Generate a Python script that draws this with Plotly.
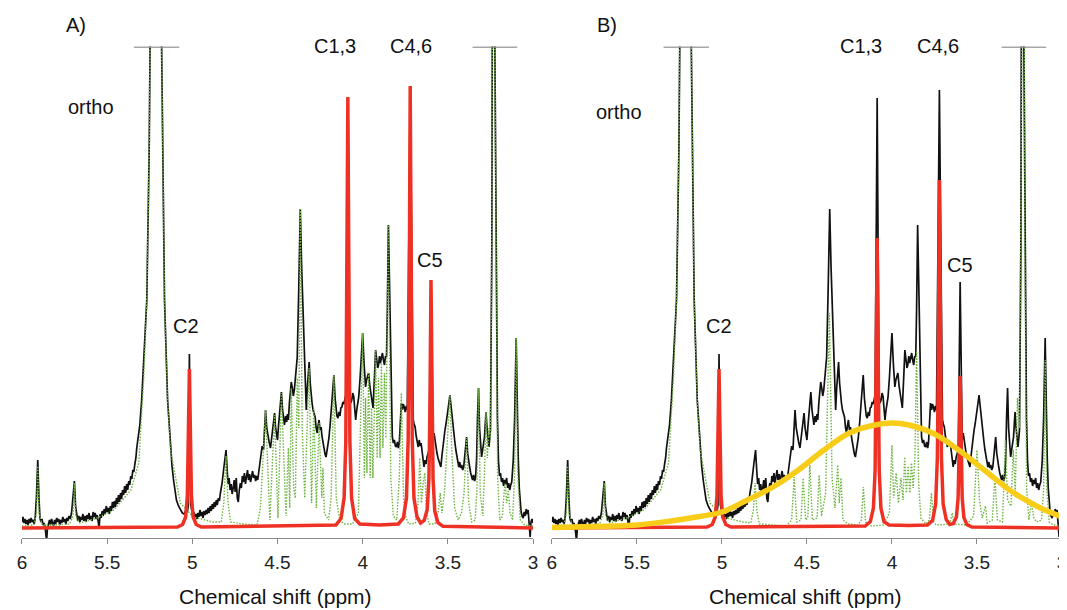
import plotly.graph_objects as go

# Measured 1H spectrum (ppm, intensity) - same data in both panels
spectrum = [
    (6.000, 6), (5.994, 11), (5.988, 5), (5.982, 9), (5.976, 4), (5.970, 8),
    (5.964, 3), (5.958, 9), (5.952, 5), (5.946, 10), (5.940, 6), (5.934, 8),
    (5.928, 4), (5.922, 10), (5.915, 30), (5.907, 68), (5.900, 30), (5.894, 10),
    (5.888, 6), (5.882, 9), (5.876, 3), (5.870, 5), (5.864, 1), (5.858, -6),
    (5.855, -13), (5.850, 0), (5.844, 4), (5.838, 8), (5.832, 3), (5.826, 9),
    (5.820, 5), (5.814, 2), (5.808, 8), (5.802, 4), (5.796, 10), (5.790, 6),
    (5.784, 9), (5.778, 3), (5.772, 8), (5.766, 5), (5.760, 11), (5.754, 6),
    (5.748, 9), (5.742, 4), (5.736, 10), (5.730, 7), (5.724, 12), (5.716, 9),
    (5.708, 16), (5.700, 30), (5.692, 47), (5.685, 22), (5.678, 12), (5.672, 7),
    (5.666, 12), (5.660, 6), (5.654, 11), (5.648, 8), (5.642, 14), (5.636, 7),
    (5.630, 12), (5.624, 6), (5.618, 13), (5.612, 9), (5.606, 15), (5.600, 8),
    (5.594, 12), (5.588, 7), (5.582, 16), (5.576, 11), (5.570, 15), (5.564, 9),
    (5.558, 13), (5.552, 6), (5.547, 0), (5.541, 14), (5.535, 10), (5.529, 17),
    (5.523, 12), (5.517, 19), (5.511, 14), (5.505, 22), (5.499, 16), (5.493, 20),
    (5.487, 14), (5.481, 22), (5.475, 17), (5.469, 26), (5.463, 20), (5.457, 27),
    (5.451, 21), (5.445, 30), (5.439, 24), (5.433, 33), (5.427, 26), (5.421, 35),
    (5.415, 29), (5.409, 38), (5.403, 33), (5.397, 42), (5.391, 35), (5.385, 44),
    (5.379, 38), (5.373, 47), (5.367, 43), (5.361, 52), (5.355, 49), (5.349, 58),
    (5.343, 56), (5.337, 64), (5.331, 70), (5.326, 80), (5.317, 92), (5.308, 103),
    (5.297, 128), (5.285, 168), (5.267, 228), (5.253, 378), (5.244, 481),
    (5.212, 1200), (5.180, 481), (5.172, 378), (5.163, 228), (5.145, 128),
    (5.128, 78), (5.119, 62), (5.110, 48), (5.101, 38), (5.093, 28), (5.081, 22),
    (5.070, 18), (5.058, 15), (5.047, 14), (5.038, 18), (5.029, 16), (5.023, 23),
    (5.017, 174), (5.009, 23), (5.003, 18), (4.997, 12), (4.991, 16), (4.985, 10),
    (4.979, 14), (4.973, 9), (4.967, 15), (4.961, 11), (4.955, 18), (4.949, 12),
    (4.943, 16), (4.937, 10), (4.931, 17), (4.925, 13), (4.919, 18), (4.913, 14),
    (4.907, 20), (4.901, 15), (4.895, 22), (4.889, 17), (4.883, 24), (4.877, 19),
    (4.871, 26), (4.865, 21), (4.859, 28), (4.853, 23), (4.847, 30), (4.841, 27),
    (4.835, 35), (4.825, 45), (4.815, 60), (4.808, 72), (4.802, 78), (4.796, 60),
    (4.790, 44), (4.784, 50), (4.778, 38), (4.772, 44), (4.766, 34), (4.760, 40),
    (4.754, 48), (4.748, 36), (4.742, 50), (4.736, 30), (4.730, 26), (4.724, 38),
    (4.718, 45), (4.712, 40), (4.706, 52), (4.700, 46), (4.694, 55), (4.688, 44),
    (4.682, 53), (4.676, 58), (4.670, 48), (4.664, 54), (4.658, 46), (4.652, 52),
    (4.646, 57), (4.640, 50), (4.634, 53), (4.628, 47), (4.622, 52), (4.616, 48),
    (4.610, 56), (4.605, 66), (4.599, 75), (4.590, 82), (4.582, 78), (4.576, 95),
    (4.570, 118), (4.563, 100), (4.556, 92), (4.549, 86), (4.541, 80), (4.535, 90),
    (4.528, 98), (4.522, 105), (4.517, 115), (4.511, 100), (4.505, 95),
    (4.500, 88), (4.494, 102), (4.488, 112), (4.482, 125), (4.477, 136),
    (4.470, 118), (4.465, 110), (4.459, 103), (4.452, 112), (4.446, 106),
    (4.441, 114), (4.436, 108), (4.430, 125), (4.424, 135), (4.419, 146),
    (4.413, 140), (4.407, 132), (4.401, 138), (4.395, 150), (4.390, 160),
    (4.384, 171), (4.375, 240), (4.366, 319), (4.358, 260), (4.349, 205),
    (4.340, 150), (4.331, 118), (4.325, 140), (4.320, 155), (4.314, 166),
    (4.308, 145), (4.302, 132), (4.297, 125), (4.291, 118), (4.285, 114),
    (4.279, 111), (4.273, 100), (4.267, 95), (4.262, 102), (4.256, 108),
    (4.250, 98), (4.244, 101), (4.239, 92), (4.233, 85), (4.227, 78), (4.221, 74),
    (4.215, 71), (4.209, 78), (4.204, 84), (4.198, 90), (4.190, 105),
    (4.180, 125), (4.169, 153), (4.162, 130), (4.157, 118), (4.151, 112),
    (4.145, 110), (4.139, 116), (4.133, 112), (4.128, 120), (4.122, 121),
    (4.116, 126), (4.110, 124), (4.105, 130), (4.099, 133), (4.087, 430),
    (4.076, 133), (4.070, 125), (4.064, 128), (4.058, 135), (4.052, 131),
    (4.046, 118), (4.041, 108), (4.035, 118), (4.029, 125), (4.023, 131),
    (4.015, 150), (4.007, 170), (4.000, 195), (3.992, 165), (3.983, 141),
    (3.977, 148), (3.971, 152), (3.965, 155), (3.958, 142), (3.953, 136),
    (3.948, 131), (3.943, 126), (3.939, 120), (3.931, 150), (3.924, 178),
    (3.917, 168), (3.912, 160), (3.907, 163), (3.901, 172), (3.896, 165),
    (3.890, 170), (3.884, 175), (3.878, 168), (3.872, 163), (3.866, 172),
    (3.860, 171), (3.855, 220), (3.849, 303), (3.843, 250), (3.837, 198),
    (3.831, 140), (3.826, 91), (3.820, 85), (3.814, 88), (3.808, 82),
    (3.802, 81), (3.796, 86), (3.790, 80), (3.785, 85), (3.779, 105),
    (3.773, 125), (3.767, 118), (3.762, 124), (3.756, 121), (3.750, 116),
    (3.744, 122), (3.738, 118), (3.721, 438), (3.703, 108), (3.698, 104),
    (3.692, 101), (3.686, 92), (3.680, 86), (3.674, 81), (3.668, 88),
    (3.662, 82), (3.657, 85), (3.651, 74), (3.645, 66), (3.640, 61), (3.634, 68),
    (3.628, 64), (3.622, 71), (3.616, 75), (3.610, 78), (3.599, 246),
    (3.587, 88), (3.581, 95), (3.575, 86), (3.570, 80), (3.564, 75), (3.558, 70),
    (3.552, 66), (3.547, 63), (3.541, 61), (3.535, 72), (3.529, 82), (3.523, 90),
    (3.517, 98), (3.511, 104), (3.505, 110), (3.500, 115), (3.494, 125),
    (3.488, 133), (3.482, 122), (3.477, 116), (3.471, 108), (3.465, 96),
    (3.459, 86), (3.453, 78), (3.447, 72), (3.441, 66), (3.436, 61), (3.430, 66),
    (3.425, 60), (3.419, 63), (3.413, 58), (3.407, 61), (3.401, 70), (3.396, 80),
    (3.390, 91), (3.384, 75), (3.378, 66), (3.372, 61), (3.366, 55), (3.361, 52),
    (3.355, 48), (3.349, 53), (3.343, 47), (3.337, 51), (3.331, 70), (3.326, 110),
    (3.320, 140), (3.314, 100), (3.308, 80), (3.302, 71), (3.296, 78),
    (3.291, 85), (3.285, 91), (3.280, 105), (3.276, 116), (3.271, 102),
    (3.267, 95), (3.263, 86), (3.259, 81), (3.254, 90), (3.250, 98), (3.242, 278),
    (3.236, 481), (3.230, 1200), (3.224, 481), (3.218, 278), (3.209, 110),
    (3.203, 68), (3.197, 52), (3.191, 55), (3.185, 46), (3.179, 50), (3.173, 42),
    (3.167, 48), (3.161, 44), (3.155, 50), (3.149, 40), (3.143, 45), (3.137, 38),
    (3.131, 43), (3.125, 46), (3.116, 68), (3.108, 110), (3.099, 190),
    (3.093, 120), (3.087, 71), (3.081, 40), (3.076, 25), (3.070, 16),
    (3.064, 12), (3.058, 10), (3.052, 16), (3.046, 12), (3.040, 19), (3.035, 14),
    (3.029, 18), (3.023, 8), (3.017, -9), (3.012, 6), (3.006, 9), (3.000, 5),
]

# fitted narrow components (green dotted), panel A
components_a = [
    (6.00, 2), (5.93, 3), (5.915, 14), (5.907, 62), (5.899, 14), (5.88, 3),
    (5.80, 3), (5.72, 4), (5.70, 12), (5.692, 45), (5.684, 12), (5.66, 5),
    (5.56, 10), (5.46, 18), (5.36, 38), (5.314, 65), (5.285, 150), (5.267, 228),
    (5.253, 378), (5.244, 481), (5.212, 1200), (5.180, 481), (5.172, 378),
    (5.163, 228), (5.145, 128), (5.128, 78), (5.07, 25), (4.994, 11),
    (4.878, 6), (4.83, 6), (4.815, 25), (4.802, 72), (4.79, 25), (4.775, 6),
    (4.70, 4), (4.62, 3), (4.60, 20), (4.57, 118), (4.545, 8), (4.517, 113),
    (4.497, 10), (4.477, 135), (4.45, 12), (4.436, 80), (4.428, 20),
    (4.419, 140), (4.405, 40), (4.395, 30), (4.384, 150), (4.375, 100),
    (4.366, 319), (4.355, 100), (4.34, 30), (4.314, 160), (4.30, 25),
    (4.287, 120), (4.272, 20), (4.256, 105), (4.24, 30), (4.233, 60),
    (4.225, 15), (4.20, 8), (4.185, 30), (4.169, 153), (4.155, 30), (4.135, 8),
    (4.11, 4), (4.06, 4), (4.025, 15), (4.000, 195), (3.99, 50), (3.983, 130),
    (3.975, 55), (3.965, 155), (3.956, 50), (3.948, 120), (3.94, 50),
    (3.924, 178), (3.915, 70), (3.907, 150), (3.898, 70), (3.890, 165),
    (3.881, 80), (3.872, 155), (3.864, 90), (3.849, 303), (3.835, 50),
    (3.82, 12), (3.80, 8), (3.785, 50), (3.773, 135), (3.76, 30), (3.745, 10),
    (3.73, 4), (3.69, 5), (3.675, 25), (3.665, 70), (3.655, 25), (3.645, 45),
    (3.635, 55), (3.625, 15), (3.61, 4), (3.575, 4), (3.555, 18), (3.545, 35),
    (3.535, 15), (3.52, 35), (3.500, 100), (3.488, 133), (3.475, 70),
    (3.46, 20), (3.44, 8), (3.42, 15), (3.405, 35), (3.390, 90), (3.378, 25),
    (3.36, 6), (3.34, 8), (3.33, 35), (3.320, 140), (3.31, 35), (3.295, 12),
    (3.285, 55), (3.276, 116), (3.268, 70), (3.259, 100), (3.250, 90),
    (3.242, 278), (3.236, 481), (3.230, 1200), (3.224, 481), (3.218, 278),
    (3.208, 50), (3.195, 8), (3.18, 12), (3.17, 35), (3.163, 45), (3.155, 25),
    (3.145, 38), (3.135, 15), (3.12, 8), (3.108, 55), (3.099, 190), (3.09, 55),
    (3.075, 8), (3.05, 3), (3.00, 2),
]

# fitted narrow components (green dotted), panel B (broad hump fitted separately)
components_b = [
    (6.00, 2), (5.93, 3), (5.915, 14), (5.907, 62), (5.899, 14), (5.88, 3),
    (5.80, 3), (5.72, 4), (5.70, 12), (5.692, 45), (5.684, 12), (5.66, 5),
    (5.56, 10), (5.46, 18), (5.36, 38), (5.314, 65), (5.285, 150), (5.267, 228),
    (5.253, 378), (5.244, 481), (5.212, 1200), (5.180, 481), (5.172, 378),
    (5.163, 228), (5.145, 128), (5.128, 78), (5.07, 25), (4.994, 11),
    (4.878, 6), (4.83, 5), (4.815, 18), (4.805, 45), (4.795, 18), (4.78, 4),
    (4.62, 2), (4.59, 8), (4.575, 51), (4.56, 6), (4.535, 8), (4.522, 50),
    (4.508, 8), (4.495, 10), (4.483, 63), (4.468, 8), (4.44, 10), (4.428, 53),
    (4.414, 12), (4.39, 35), (4.368, 215), (4.352, 50), (4.335, 20),
    (4.319, 63), (4.31, 25), (4.30, 50), (4.288, 8), (4.26, 4), (4.20, 3),
    (4.18, 8), (4.168, 41), (4.155, 6), (4.12, 2), (4.05, 3), (4.015, 15),
    (4.000, 83), (3.99, 30), (3.975, 55), (3.962, 25), (3.947, 50), (3.935, 28),
    (3.925, 71), (3.915, 35), (3.905, 62), (3.895, 35), (3.885, 65),
    (3.875, 40), (3.865, 70), (3.855, 178), (3.843, 45), (3.83, 10), (3.80, 4),
    (3.78, 8), (3.768, 35), (3.755, 6), (3.74, 3), (3.66, 4), (3.645, 15),
    (3.635, 4), (3.56, 3), (3.52, 12), (3.500, 78), (3.485, 28), (3.47, 10),
    (3.45, 22), (3.44, 5), (3.41, 8), (3.395, 50), (3.38, 8), (3.35, 6),
    (3.333, 88), (3.32, 28), (3.30, 22), (3.287, 78), (3.275, 35),
    (3.262, 130), (3.250, 100), (3.242, 278), (3.236, 481), (3.230, 1200),
    (3.224, 481), (3.218, 278), (3.208, 40), (3.195, 8), (3.18, 25),
    (3.165, 10), (3.15, 6), (3.12, 8), (3.108, 40), (3.099, 168), (3.09, 40),
    (3.075, 6), (3.05, 3), (3.00, 2),
]

# inositol ring signals (red), panel A
ring_a = [
    (6.000, 0), (5.087, 1), (5.057, 3.5), (5.039, 11), (5.029, 32), (5.023, 80),
    (5.020, 127), (5.017, 159), (5.014, 127), (5.011, 80), (5.005, 32),
    (4.995, 11), (4.977, 3.5), (4.947, 1), (4.157, 3), (4.127, 9.5),
    (4.109, 30), (4.099, 86), (4.093, 215), (4.090, 345), (4.087, 431),
    (4.084, 345), (4.081, 215), (4.075, 86), (4.065, 30), (4.047, 9.5),
    (4.017, 4), (3.90, 3), (3.791, 4), (3.761, 10), (3.743, 30), (3.733, 88),
    (3.727, 221), (3.724, 354), (3.721, 442), (3.718, 354), (3.715, 221),
    (3.709, 88), (3.699, 30), (3.681, 11), (3.660, 5), (3.639, 7.5),
    (3.621, 18.5), (3.611, 50), (3.605, 124), (3.602, 198), (3.599, 248),
    (3.596, 198), (3.593, 124), (3.587, 50), (3.577, 17), (3.559, 5.5),
    (3.529, 1.7), (3.000, 0),
]

# inositol ring signals (red), panel B
ring_b = [
    (6.000, 0), (5.087, 1), (5.057, 3.5), (5.039, 11), (5.029, 32), (5.023, 80),
    (5.020, 127), (5.017, 159), (5.014, 127), (5.011, 80), (5.005, 32),
    (4.995, 11), (4.977, 3.5), (4.947, 1), (4.157, 2), (4.127, 6.4),
    (4.109, 20), (4.099, 58), (4.093, 145), (4.090, 232), (4.087, 290),
    (4.084, 232), (4.081, 145), (4.075, 58), (4.065, 20), (4.047, 6.4),
    (4.017, 3), (3.90, 2.5), (3.791, 3), (3.761, 7.7), (3.743, 24), (3.733, 70),
    (3.727, 174), (3.724, 278), (3.721, 348), (3.718, 278), (3.715, 174),
    (3.709, 70), (3.699, 24), (3.681, 8.5), (3.660, 3.5), (3.639, 4.5),
    (3.621, 11), (3.611, 30), (3.605, 76), (3.602, 122), (3.599, 152),
    (3.596, 122), (3.593, 76), (3.587, 30), (3.577, 10.5), (3.559, 3.3),
    (3.529, 1), (3.000, 0),
]

# broad underlying hump (yellow), panel B
hump_b = [
    (6.00, 0.5), (5.75, 1.5), (5.50, 3), (5.30, 7), (5.15, 11), (5.00, 16),
    (4.85, 28), (4.70, 41), (4.55, 58), (4.40, 78), (4.25, 95), (4.10, 103),
    (4.00, 105), (3.90, 103), (3.75, 94), (3.60, 77), (3.45, 57), (3.30, 37),
    (3.15, 22), (3.00, 11),
]

# truncated peaks: ppm span of the grey cut-off bars
cut_bars = [(5.343, 5.076), (3.355, 3.093)]

labels = ["ortho", "C2", "C1,3", "C4,6", "C5"]
# (ppm, pixel row in the 610 px tall picture)
label_pos_a = [(5.597, 107), (5.035, 326), (4.165, 46), (3.714, 46), (3.604, 260)]
label_pos_b = [(5.607, 112), (5.020, 326), (4.183, 46), (3.730, 46), (3.602, 265)]

tick_vals = [6, 5.5, 5, 4.5, 4, 3.5, 3]
tick_text = ["6", "5.5", "5", "4.5", "4", "3.5", "3"]

FONT = "Arial, Liberation Sans, sans-serif"
BLACK = "#111111"
GREEN = "#6cb43f"
RED = "#ee3124"
YELLOW = "#f8cd1a"
GREY = "#8a8a8a"

# page body adds an 8 px margin, so the figure is drawn 8 px smaller
OFF = 8
W, H = 1067 - OFF, 610 - OFF


def fx(col):
    return (col - OFF) / W


def fy(row):
    return 1 - (row - OFF) / H


def xy(pairs):
    return [p[0] for p in pairs], [p[1] for p in pairs]


fig = go.Figure()

for xa, ya, comps, ring in [("x", "y", components_a, ring_a), ("x2", "y2", components_b, ring_b)]:
    sx, sy = xy(spectrum)
    fig.add_trace(go.Scatter(x=sx, y=sy, mode="lines", xaxis=xa, yaxis=ya,
                             line=dict(color=BLACK, width=1.7)))
    gx, gy = xy(comps)
    fig.add_trace(go.Scatter(x=gx, y=gy, mode="lines", xaxis=xa, yaxis=ya,
                             line=dict(color=GREEN, width=1.4, dash="1.5px,1.5px")))
    rx, ry = xy(ring)
    fig.add_trace(go.Scatter(x=rx, y=ry, mode="lines", xaxis=xa, yaxis=ya,
                             line=dict(color=RED, width=3.5)))
    if xa == "x2":
        # broad component sits on top of the baseline in panel B
        hx, hy = xy(hump_b)
        fig.add_trace(go.Scatter(x=hx, y=hy, mode="lines", xaxis=xa, yaxis=ya,
                                 line=dict(color=YELLOW, width=5.5, shape="spline")))
    for x0, x1 in cut_bars:
        fig.add_trace(go.Scatter(x=[x0, x1], y=[481, 481], mode="lines", xaxis=xa, yaxis=ya,
                                 line=dict(color=GREY, width=1.5)))

annotations = []
for xa, pos in [("x", label_pos_a), ("x2", label_pos_b)]:
    for txt, (ppm, row) in zip(labels, pos):
        annotations.append(dict(x=ppm, y=fy(row), xref=xa, yref="paper", text=txt,
                                showarrow=False, xanchor="center", yanchor="middle",
                                font=dict(size=20, family=FONT, color=BLACK)))
    annotations.append(dict(x=4.51, y=fy(596), xref=xa, yref="paper", text="Chemical shift (ppm)",
                            showarrow=False, xanchor="center", yanchor="middle",
                            font=dict(size=21, family=FONT, color=BLACK)))
for txt, col in [("A)", 72), ("B)", 608)]:
    annotations.append(dict(x=fx(col), y=fy(25), xref="paper", yref="paper", text=txt,
                            showarrow=False, xanchor="center", yanchor="middle",
                            font=dict(size=20, family=FONT, color=BLACK)))

y_dom = [fy(538), fy(46.5)]
xaxis_style = dict(
    range=[6, 3], tickvals=tick_vals, ticktext=tick_text,
    showline=True, linecolor=GREY, linewidth=1.2, ticks="outside", ticklen=5,
    tickcolor=GREY, tickwidth=1, showgrid=False, zeroline=False,
    tickfont=dict(size=19, family=FONT, color="#222222"), ticklabelstandoff=2,
    ticklabeloverflow="allow",
)
yaxis_style = dict(range=[-10, 481.5], domain=y_dom, visible=False, showgrid=False)

fig.update_layout(
    width=W, height=H,
    margin=dict(l=0, r=0, t=0, b=0),
    paper_bgcolor="white", plot_bgcolor="white",
    showlegend=False,
    xaxis=dict(domain=[fx(17), fx(533)], anchor="y", **xaxis_style),
    yaxis=dict(anchor="x", **yaxis_style),
    xaxis2=dict(domain=[fx(552), 1.0], anchor="y2", **xaxis_style),
    yaxis2=dict(anchor="x2", **yaxis_style),
    annotations=annotations,
)

fig.write_html("out.html")
